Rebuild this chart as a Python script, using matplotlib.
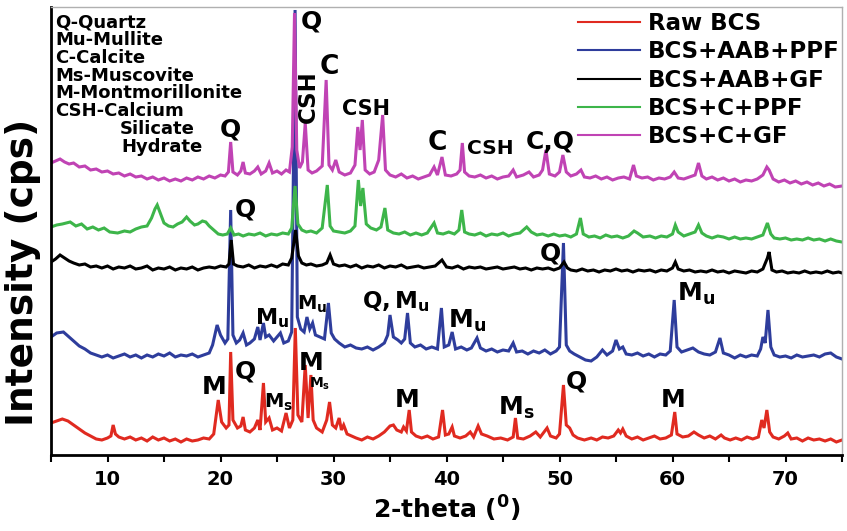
import numpy as np
import matplotlib
matplotlib.use('Agg')
import matplotlib.pyplot as plt

plt.rcParams['font.family'] = ['DejaVu Sans']
plt.rcParams['font.weight'] = 'bold'
plt.rcParams['mathtext.fontset'] = 'dejavusans'

# XRD patterns: (2-theta, intensity above each trace's own baseline)
raw_bcs = [
    (5.0, 17), (5.5, 19), (6.0, 21), (6.5, 19), (7.0, 15), (7.5, 11), (8.0, 7), (8.5, 4), (9.0, 1), (9.5, 0),
    (10.0, 2), (10.3, 4), (10.5, 15), (10.7, 6), (11.0, 3), (11.5, 1), (12.0, 3), (12.5, 0), (13.0, 2), (13.5, -1),
    (14.0, 3), (14.5, 0), (15.0, 2), (15.5, -1), (16.0, 1), (16.5, -2), (17.0, 1), (17.5, -1), (18.0, 0), (18.5, 2),
    (19.0, 1), (19.4, 6), (19.8, 40), (20.1, 18), (20.5, 12), (20.75, 15), (20.9, 88), (21.1, 20), (21.5, 12),
    (21.8, 14), (22.0, 23), (22.2, 10), (22.6, 8), (23.0, 12), (23.3, 20), (23.5, 10), (23.8, 57), (24.0, 18),
    (24.3, 22), (24.6, 10), (25.0, 12), (25.4, 9), (25.8, 27), (26.1, 12), (26.4, 20), (26.62, 112), (26.85, 25),
    (27.2, 18), (27.5, 75), (27.75, 22), (28.0, 65), (28.2, 20), (28.5, 12), (29.0, 8), (29.4, 20), (29.65, 38),
    (29.9, 15), (30.2, 12), (30.5, 22), (30.7, 10), (30.9, 15), (31.2, 6), (31.6, 4), (32.0, 2), (32.5, 0),
    (33.0, 3), (33.5, 1), (34.0, 4), (34.5, 8), (35.0, 14), (35.3, 15), (35.6, 10), (36.0, 8), (36.2, 13),
    (36.45, 9), (36.7, 30), (36.9, 8), (37.3, 4), (37.8, 2), (38.3, 4), (38.8, 1), (39.3, 3), (39.65, 30),
    (39.9, 5), (40.2, 6), (40.5, 13), (40.7, 4), (41.2, 2), (41.7, 4), (42.1, 8), (42.4, 3), (42.8, 14), (43.1, 6),
    (43.6, 4), (44.2, 1), (44.8, 2), (45.4, 0), (45.9, 3), (46.1, 22), (46.3, 2), (46.8, 1), (47.4, 4), (47.9, 8),
    (48.3, 3), (48.9, 12), (49.2, 4), (49.7, 2), (50.0, 6), (50.35, 55), (50.6, 15), (50.9, 12), (51.2, 5),
    (51.6, 2), (52.2, 0), (52.8, 2), (53.3, 0), (53.8, 3), (54.3, 2), (54.8, 4), (55.2, 10), (55.4, 7), (55.6, 11),
    (55.9, 4), (56.4, 1), (56.9, 3), (57.4, 0), (57.9, 2), (58.4, 4), (58.9, 1), (59.4, 2), (59.9, 5), (60.2, 28),
    (60.4, 6), (60.9, 3), (61.4, 4), (61.9, 8), (62.3, 5), (62.8, 2), (63.3, 4), (63.8, 1), (64.3, 5), (64.6, 2),
    (65.1, 0), (65.6, 2), (66.1, 0), (66.6, 3), (67.1, 1), (67.6, 3), (67.9, 20), (68.1, 12), (68.35, 30),
    (68.6, 8), (68.9, 3), (69.4, 1), (69.9, 4), (70.2, 7), (70.5, 1), (71.0, 2), (71.5, -1), (72.0, 2), (72.5, 0),
    (73.0, 1), (73.5, -1), (74.0, 1), (74.5, -2), (75.0, 0),
]

aab_ppf = [
    (5.0, 20), (5.5, 24), (6.1, 25), (6.5, 21), (7.0, 16), (7.5, 11), (8.0, 8), (8.5, 4), (9.0, 2), (9.5, 0),
    (10.0, 2), (10.5, -1), (11.0, 1), (11.5, 3), (12.0, 0), (12.5, 2), (13.0, -1), (13.5, 2), (14.0, 0), (14.5, 3),
    (15.0, 1), (15.5, 4), (16.0, 0), (16.5, 2), (17.0, 1), (17.5, 3), (18.0, 0), (18.5, 2), (19.0, 4), (19.3, 12),
    (19.7, 32), (20.0, 22), (20.4, 14), (20.65, 18), (20.9, 147), (21.1, 22), (21.4, 14), (21.7, 17), (22.0, 24),
    (22.3, 12), (22.6, 14), (23.0, 18), (23.3, 30), (23.5, 17), (23.8, 34), (24.0, 20), (24.3, 22), (24.7, 16),
    (25.0, 20), (25.3, 24), (25.6, 14), (26.0, 16), (26.3, 25), (26.6, 347), (26.8, 40), (27.1, 28), (27.4, 25),
    (27.65, 40), (27.9, 28), (28.15, 34), (28.4, 22), (28.8, 20), (29.2, 18), (29.55, 54), (29.8, 24), (30.1, 18),
    (30.5, 14), (31.0, 10), (31.5, 12), (32.0, 9), (32.5, 8), (33.0, 10), (33.5, 7), (34.0, 10), (34.5, 14),
    (34.8, 22), (35.0, 42), (35.3, 20), (35.7, 17), (36.0, 14), (36.3, 18), (36.55, 44), (36.8, 14), (37.2, 10),
    (37.7, 12), (38.2, 8), (38.7, 10), (39.2, 8), (39.55, 49), (39.8, 10), (40.2, 12), (40.5, 25), (40.8, 8),
    (41.3, 10), (41.8, 7), (42.2, 9), (42.7, 19), (43.0, 9), (43.5, 6), (44.0, 8), (44.5, 5), (45.0, 7), (45.5, 6),
    (45.9, 14), (46.2, 5), (46.7, 6), (47.2, 3), (47.7, 6), (48.2, 4), (48.7, 7), (49.2, 3), (49.7, 6), (50.0, 10),
    (50.35, 114), (50.6, 12), (50.9, 6), (51.3, 3), (51.8, 0), (52.3, -3), (52.8, -4), (53.3, 0), (53.8, 7),
    (54.2, 2), (54.7, 6), (55.0, 17), (55.3, 8), (55.6, 10), (55.9, 3), (56.4, 2), (56.9, 4), (57.4, 1), (57.9, 3),
    (58.4, 0), (58.9, 3), (59.4, 2), (59.8, 6), (60.15, 57), (60.4, 10), (60.8, 5), (61.3, 7), (61.8, 9), (62.3, 5),
    (62.8, 3), (63.3, 2), (63.8, 5), (64.2, 19), (64.5, 4), (65.0, 2), (65.5, -1), (66.0, 2), (66.5, 0), (67.0, 2),
    (67.5, 1), (67.8, 8), (68.0, 20), (68.2, 14), (68.45, 47), (68.7, 10), (69.0, 2), (69.5, 0), (70.0, 1),
    (70.5, -1), (71.0, 2), (71.5, 0), (72.0, 1), (72.5, 2), (73.0, 0), (73.5, 3), (74.0, 4), (74.5, 0), (75.0, -2),
]

aab_gf = [
    (5.0, 6), (5.4, 9), (5.8, 13), (6.2, 10), (6.6, 7), (7.0, 5), (7.5, 3), (8.0, 4), (8.5, 1), (9.0, 2), (9.5, 0),
    (10.0, 2), (10.5, -1), (11.0, 1), (11.5, 0), (12.0, 2), (12.5, -1), (13.0, 0), (13.5, 2), (14.0, -2), (14.5, 0),
    (15.0, -1), (15.5, 1), (16.0, -2), (16.5, 0), (17.0, -1), (17.5, 1), (18.0, -2), (18.5, 0), (19.0, 1),
    (19.5, 0), (20.0, 2), (20.5, 1), (20.75, 4), (20.95, 28), (21.15, 4), (21.5, 2), (22.0, 1), (22.5, 3),
    (23.0, 0), (23.5, 2), (24.0, 1), (24.5, 3), (25.0, 1), (25.5, 4), (26.0, 3), (26.3, 10), (26.65, 38),
    (26.9, 12), (27.2, 5), (27.6, 3), (28.0, 4), (28.5, 2), (29.0, 3), (29.4, 5), (29.7, 13), (30.0, 4), (30.5, 2),
    (31.0, 3), (31.5, 1), (32.0, 3), (32.5, 0), (33.0, 2), (33.5, 1), (34.0, 3), (34.5, 0), (35.0, 2), (35.5, 1),
    (36.0, 3), (36.5, 0), (37.0, 1), (37.5, 2), (38.0, 0), (38.5, 1), (39.0, 2), (39.6, 8), (40.0, 1), (40.5, 0),
    (41.0, 2), (41.5, -1), (42.0, 1), (42.5, 0), (43.0, 1), (43.5, -1), (44.0, 0), (44.5, 1), (45.0, -1),
    (45.5, 0), (46.0, 1), (46.5, -1), (47.0, 0), (47.5, -2), (48.0, 0), (48.5, -1), (49.0, 0), (49.5, -2),
    (50.0, 0), (50.4, 6), (50.7, 0), (51.0, -2), (51.5, -3), (52.0, -1), (52.5, -3), (53.0, -2), (53.5, -4),
    (54.0, -2), (54.5, -3), (55.0, -1), (55.5, -3), (56.0, -2), (56.5, -4), (57.0, -2), (57.5, -3), (58.0, -2),
    (58.5, -4), (59.0, -2), (59.5, -3), (60.0, 0), (60.25, 6), (60.5, -1), (61.0, -3), (61.5, -2), (62.0, -4),
    (62.5, -3), (63.0, -4), (63.5, -2), (64.0, -4), (64.5, -3), (65.0, -5), (65.5, -3), (66.0, -4), (66.5, -5),
    (67.0, -3), (67.5, -4), (68.0, -1), (68.4, 10), (68.55, 16), (68.8, -2), (69.2, -4), (69.7, -3), (70.2, -5),
    (70.7, -4), (71.2, -5), (71.7, -3), (72.2, -5), (72.7, -4), (73.2, -5), (73.7, -3), (74.2, -5), (74.7, -4),
    (75.0, -5),
]

c_ppf = [
    (5.0, 9), (5.5, 11), (6.0, 12), (6.7, 14), (7.2, 10), (7.7, 12), (8.2, 7), (8.7, 9), (9.2, 6), (9.7, 8),
    (10.2, 4), (10.9, 3), (11.5, 5), (12.0, 4), (12.5, 7), (13.0, 9), (13.5, 10), (13.9, 18), (14.2, 27),
    (14.4, 31), (14.7, 22), (15.0, 13), (15.4, 10), (15.8, 9), (16.2, 12), (16.6, 14), (17.0, 19), (17.3, 15),
    (17.7, 11), (18.0, 12), (18.4, 15), (18.7, 14), (19.0, 10), (19.4, 6), (19.8, 2), (20.2, 1), (20.6, 2),
    (20.9, 8), (21.2, 1), (21.6, 2), (22.0, 0), (22.5, 2), (23.0, 1), (23.5, 3), (24.0, 0), (24.5, 2), (25.0, 1),
    (25.5, 3), (26.0, 2), (26.3, 8), (26.6, 50), (26.85, 12), (27.2, 6), (27.6, 4), (28.0, 5), (28.5, 3),
    (29.0, 8), (29.45, 51), (29.7, 10), (30.0, 5), (30.5, 4), (31.0, 3), (31.5, 5), (31.9, 10), (32.2, 56),
    (32.4, 30), (32.6, 48), (32.9, 12), (33.3, 8), (33.8, 6), (34.2, 9), (34.55, 28), (34.8, 6), (35.3, 3),
    (35.8, 2), (36.3, 4), (36.8, 1), (37.3, 3), (37.8, 1), (38.3, 3), (38.9, 13), (39.2, 3), (39.7, 2), (40.2, 4),
    (40.7, 2), (41.1, 6), (41.35, 26), (41.6, 4), (42.0, 2), (42.5, 1), (43.0, 3), (43.5, 0), (44.0, 2), (44.5, 1),
    (45.0, 3), (45.5, 0), (46.0, 2), (46.5, 3), (47.1, 9), (47.5, 4), (48.0, 1), (48.5, 2), (49.0, 0), (49.5, 2),
    (50.0, 0), (50.5, 1), (51.0, -1), (51.5, 2), (51.85, 18), (52.1, 2), (52.6, -1), (53.1, 0), (53.6, -2),
    (54.1, 1), (54.6, -1), (55.1, 0), (55.6, -2), (56.1, 0), (56.6, 5), (56.9, 3), (57.4, -1), (58.0, 0),
    (58.5, -2), (59.0, 0), (59.5, -1), (60.0, 2), (60.25, 11), (60.5, 4), (61.0, 0), (61.5, 2), (62.0, 4),
    (62.3, 11), (62.6, 3), (63.0, 0), (63.5, -2), (64.0, 0), (64.5, -1), (65.0, -3), (65.5, -1), (66.0, -3),
    (66.5, -2), (67.0, -3), (67.5, -1), (68.0, 1), (68.4, 13), (68.7, 2), (69.0, -2), (69.5, -3), (70.0, -2),
    (70.5, -4), (71.0, -3), (71.5, -4), (72.0, -2), (72.5, -4), (73.0, -3), (73.5, -5), (74.0, -3), (74.5, -5),
    (75.0, -6),
]

c_gf = [
    (5.0, 17), (5.4, 19), (5.8, 21), (6.2, 18), (6.6, 16), (7.0, 17), (7.5, 13), (8.0, 14), (8.5, 10), (9.0, 11),
    (9.5, 8), (10.0, 9), (10.5, 6), (11.0, 7), (11.5, 4), (12.0, 6), (12.5, 3), (13.0, 4), (13.5, 1), (14.0, 3),
    (14.5, 0), (15.0, 2), (15.5, -1), (16.0, 1), (16.5, -1), (17.0, 2), (17.5, 0), (18.0, 3), (18.5, 1), (19.0, 4),
    (19.5, 2), (20.0, 5), (20.4, 4), (20.7, 8), (20.9, 38), (21.1, 8), (21.5, 5), (21.8, 9), (22.0, 18), (22.2, 7),
    (22.6, 6), (23.0, 9), (23.3, 13), (23.6, 6), (24.0, 9), (24.3, 17), (24.6, 7), (25.0, 9), (25.4, 6),
    (25.8, 10), (26.1, 8), (26.35, 33), (26.55, 167), (26.75, 30), (27.0, 12), (27.25, 18), (27.5, 57),
    (27.75, 10), (28.1, 7), (28.5, 9), (29.0, 14), (29.35, 100), (29.6, 15), (29.9, 10), (30.2, 20), (30.5, 8),
    (31.0, 5), (31.5, 7), (31.9, 15), (32.15, 53), (32.35, 30), (32.55, 60), (32.8, 10), (33.2, 6), (33.6, 8),
    (34.0, 20), (34.35, 65), (34.6, 10), (35.0, 5), (35.5, 3), (36.0, 6), (36.5, 2), (37.0, 4), (37.5, 1),
    (38.0, 3), (38.5, 5), (38.9, 13), (39.2, 5), (39.6, 23), (39.9, 5), (40.4, 4), (40.9, 6), (41.2, 10),
    (41.4, 37), (41.6, 8), (42.0, 4), (42.5, 3), (43.0, 5), (43.5, 2), (44.0, 4), (44.5, 1), (45.0, 3), (45.5, 4),
    (45.9, 10), (46.2, 3), (46.8, 5), (47.3, 8), (47.7, 3), (48.2, 5), (48.5, 10), (48.8, 30), (49.1, 6),
    (49.6, 4), (50.0, 8), (50.3, 25), (50.6, 8), (51.0, 4), (51.5, 6), (51.9, 10), (52.2, 3), (52.7, 2), (53.2, 4),
    (53.7, 1), (54.2, 3), (54.7, 0), (55.2, 2), (55.7, 3), (56.2, 1), (56.55, 15), (56.8, 4), (57.3, 2), (57.8, 3),
    (58.3, 0), (58.8, 2), (59.3, 1), (59.8, 3), (60.15, 8), (60.5, 2), (61.0, 1), (61.5, 3), (62.0, 5),
    (62.3, 17), (62.6, 4), (63.0, 1), (63.5, 3), (64.0, 0), (64.5, 2), (65.0, -1), (65.5, 1), (66.0, -2),
    (66.5, 0), (67.0, -1), (67.5, 1), (68.0, 5), (68.35, 13), (68.55, 10), (68.9, 1), (69.4, -2), (69.9, 0),
    (70.4, -3), (70.9, -1), (71.4, -4), (71.9, -2), (72.4, -5), (72.9, -3), (73.4, -6), (73.9, -4), (74.4, -7),
    (75.0, -6),
]

series_labels = ['Raw BCS', 'BCS+AAB+PPF', 'BCS+AAB+GF', 'BCS+C+PPF', 'BCS+C+GF']
series_data = [raw_bcs, aab_ppf, aab_gf, c_ppf, c_gf]
series_offsets = [15, 98, 187, 219, 275]
series_colors = ['#e02a20', '#2e3d9c', '#000000', '#3db54a', '#c043b4']

phase_key = ['Q-Quartz', 'Mu-Mullite', 'C-Calcite', 'Ms-Muscovite', 'M-Montmorillonite', 'CSH-Calcium']

X0, X1, Y0, Y1 = 5, 75, 0, 448

fig = plt.figure(figsize=(8.47, 5.31), dpi=100)
ax = fig.add_axes([51 / 847, 76 / 531, 791 / 847, 448 / 531])


def at(px, py):
    # figure pixel position -> data coordinates (for annotation placement)
    return X0 + (px - 51) * (X1 - X0) / 791, (455 - py)


for data, off, col, lab in zip(series_data, series_offsets, series_colors, series_labels):
    arr = np.array(data, dtype=float)
    ax.plot(arr[:, 0], arr[:, 1] + off, color=col, lw=2.2, label=lab, solid_joinstyle='miter')

ax.set_xlim(X0, X1)
ax.set_ylim(Y0, Y1)
ax.set_yticks([])
ax.set_xticks(np.arange(10, 71, 10))
ax.set_xticks(np.arange(5, 76, 10), minor=True)
ax.tick_params(axis='x', which='both', direction='out', length=5, width=1.5, labelsize=14, pad=6)
for t in ax.get_xticklabels():
    t.set_fontweight('bold')
for s in ['left', 'bottom']:
    ax.spines[s].set_linewidth(2)
for s in ['top', 'right']:
    ax.spines[s].set_linewidth(1)
    ax.spines[s].set_color('#b0b0b0')

ax.set_xlabel(r'2-theta ($^\mathbf{0}$)', fontsize=18, fontweight='bold', labelpad=3)
ax.set_ylabel('Intensity (cps)', fontsize=27, fontweight='bold')
ax.yaxis.set_label_coords(-10 / 791, (455 - 272) / 448)

# phase key in the top-left corner
key_baselines = [27, 45, 63, 81, 98, 116]
for txt, b in zip(phase_key, key_baselines):
    ax.text(*at(55, b), txt, fontsize=13, fontweight='bold', va='baseline', ha='left')
ax.text(*at(120, 134), 'Silicate', fontsize=13, fontweight='bold', va='baseline', ha='left')
ax.text(*at(121, 152), 'Hydrate', fontsize=13, fontweight='bold', va='baseline', ha='left')

Mu = r'$\mathbf{M_u}$'
Ms = r'$\mathbf{M_s}$'
peak_labels = [
    ('Q', 230, 130, 18, 0), ('Q', 311, 22, 18, 0), ('CSH', 308, 97, 16.5, 90), ('C', 329, 67, 19, 0),
    ('CSH', 366, 109, 15, 0), ('C', 437, 143, 19, 0), ('CSH', 490, 148, 14.5, 0), ('C,Q', 550, 142, 18, 0),
    ('Q', 245, 210, 18, 0), (Mu, 272, 318, 16, 0), (Mu, 312, 304, 14, 0), (r'$\mathbf{Q,M_u}$', 396, 302, 16.5, 0),
    (Mu, 467, 321, 18, 0), ('Q', 550, 254, 18, 0), (Mu, 696, 294, 18, 0),
    ('M', 214, 387, 18, 0), ('Q', 245, 371, 18, 0), (Ms, 279, 402, 14, 0), ('M', 311, 363, 18, 0),
    (Ms, 320, 384, 10, 0), ('M', 407, 400, 18, 0), (Ms, 516, 408, 18, 0), ('Q', 576, 382, 18, 0),
    ('M', 673, 400, 18, 0),
]
for txt, px, py, fs, rot in peak_labels:
    ax.text(*at(px, py), txt, fontsize=fs, fontweight='bold', ha='center', va='center', rotation=rot)

leg = ax.legend(loc='upper left', bbox_to_anchor=((578 - 51) / 791, (455 - 12) / 448), frameon=False,
                prop={'size': 16.5, 'weight': 'bold'}, handlelength=2.7, handletextpad=0.36,
                labelspacing=0.23, borderpad=0, borderaxespad=0)
for line in leg.get_lines():
    line.set_linewidth(1.5)

fig.savefig('out.png', dpi=100)
